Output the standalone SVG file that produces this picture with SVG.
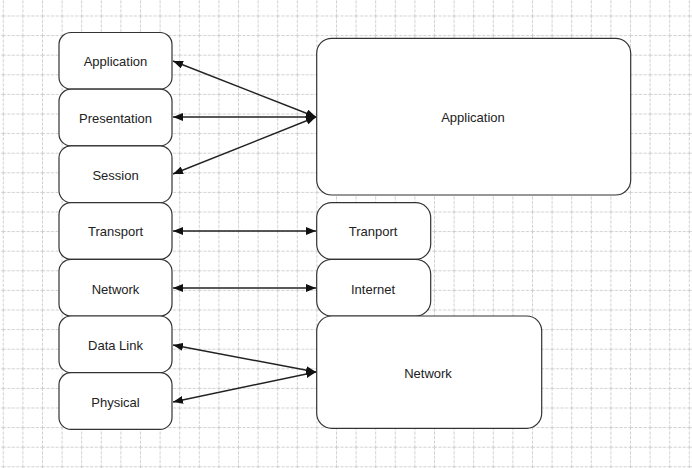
<svg xmlns="http://www.w3.org/2000/svg" width="692" height="468" viewBox="0 0 692 468">
<style>
.node rect{fill:#fff;stroke:#333;stroke-width:1.2}
.node text{font-family:"Liberation Sans",Arial,sans-serif;font-size:13px;fill:#222;text-anchor:middle;dominant-baseline:central}
.conn line{stroke:#222;stroke-width:1.4;marker-start:url(#ah);marker-end:url(#ah)}
</style>
<defs>
<pattern id="grid" patternUnits="userSpaceOnUse" x="2.8" y="15.5" width="19.6" height="19.6">
<path d="M0.5 0 V19.6 M0 0.5 H19.6" stroke="#cfcfcf" stroke-width="1" stroke-dasharray="3 1.5" fill="none"/>
</pattern>
<marker id="ah" viewBox="0 0 10 8" refX="10" refY="4" markerWidth="10" markerHeight="8" markerUnits="userSpaceOnUse" orient="auto-start-reverse">
<path d="M0 0 L10 4 L0 8 Z" fill="#111"/>
</marker>
</defs>
<rect width="692" height="468" fill="#fff"/>
<rect width="692" height="468" fill="url(#grid)"/>
<g id="connectors" class="conn">
<line x1="316" y1="117" x2="173" y2="61"/>
<line x1="316" y1="117" x2="173" y2="117"/>
<line x1="316" y1="117" x2="173" y2="174"/>
<line x1="173" y1="231" x2="316" y2="231"/>
<line x1="173" y1="288" x2="316" y2="288"/>
<line x1="316" y1="372" x2="173" y2="345"/>
<line x1="316" y1="372" x2="173" y2="402"/>
</g>
<g id="osi-application" class="node"><rect x="59" y="32.5" width="113" height="56.7" rx="12"/><text x="115.5" y="61.5">Application</text></g>
<g id="osi-presentation" class="node"><rect x="59" y="89.2" width="113" height="56.7" rx="12"/><text x="115.5" y="118">Presentation</text></g>
<g id="osi-session" class="node"><rect x="59" y="145.9" width="113" height="56.7" rx="12"/><text x="115.5" y="175">Session</text></g>
<g id="osi-transport" class="node"><rect x="59" y="202.6" width="113" height="56.7" rx="12"/><text x="115.5" y="231.5">Transport</text></g>
<g id="osi-network" class="node"><rect x="59" y="259.3" width="113" height="56.7" rx="12"/><text x="115.5" y="289">Network</text></g>
<g id="osi-datalink" class="node"><rect x="59" y="316" width="113" height="56.7" rx="12"/><text x="115.5" y="345">Data Link</text></g>
<g id="osi-physical" class="node"><rect x="59" y="372.7" width="113" height="56.7" rx="12"/><text x="115.5" y="402.5">Physical</text></g>
<g id="tcp-application" class="node"><rect x="316.7" y="38.3" width="314" height="156.7" rx="15"/><text x="473" y="117.5">Application</text></g>
<g id="tcp-transport" class="node"><rect x="316.7" y="202.7" width="114" height="56.6" rx="15"/><text x="373" y="231">Tranport</text></g>
<g id="tcp-internet" class="node"><rect x="316.7" y="259.3" width="114" height="56.7" rx="15"/><text x="373" y="289">Internet</text></g>
<g id="tcp-network" class="node"><rect x="316.7" y="316" width="225" height="112.3" rx="15"/><text x="428" y="373">Network</text></g>
</svg>
